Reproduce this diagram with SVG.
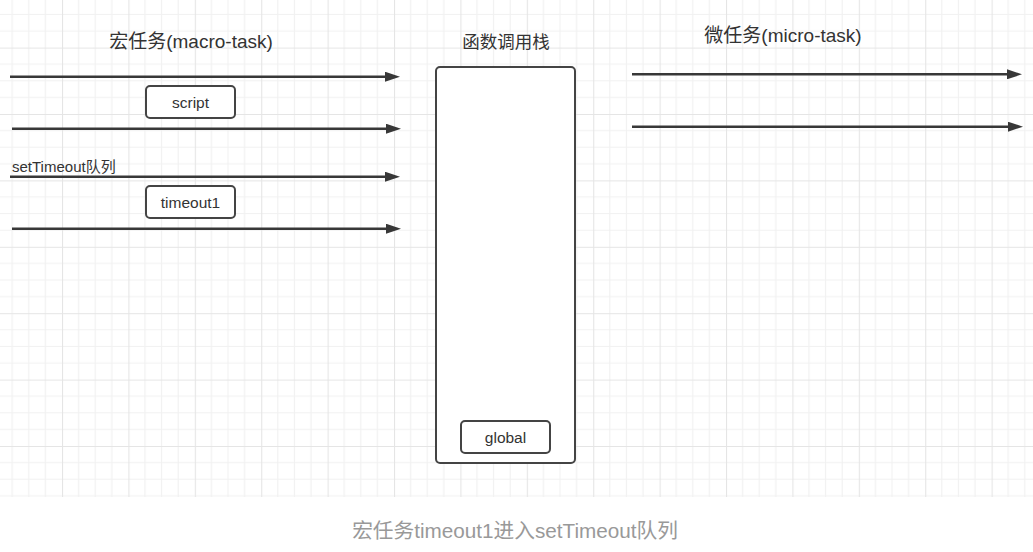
<svg xmlns="http://www.w3.org/2000/svg" width="1033" height="552" viewBox="0 0 1033 552">
  <style>
    .lbl { font-family: "Liberation Sans", "Noto Sans CJK SC", sans-serif; fill: #333333; }
    .box { fill: #ffffff; stroke: #444444; stroke-width: 2; }
    .arr { stroke: #383838; stroke-width: 2.5; fill: none; marker-end: url(#ah); }
  </style>
  <defs>
    <pattern id="grid" patternUnits="userSpaceOnUse" x="62" y="47.6" width="66.4" height="66.4">
      <path d="M16.6,0 V66.4 M33.2,0 V66.4 M49.8,0 V66.4 M0,16.6 H66.4 M0,33.2 H66.4 M0,49.8 H66.4" stroke="#f1f1f1" stroke-width="1.2" fill="none"/>
      <path d="M0.5,0 V66.4 M0,0.5 H66.4" stroke="#e5e5e5" stroke-width="1.2" fill="none"/>
    </pattern>
    <marker id="ah" markerUnits="userSpaceOnUse" markerWidth="15" markerHeight="10" viewBox="0 0 15 10" refX="1" refY="5" orient="auto">
      <path d="M0,0 L15,5 L0,10 z" fill="#383838"/>
    </marker>
  </defs>
  <rect x="0" y="0" width="1033" height="552" fill="#ffffff"/>
  <rect x="0" y="0" width="1033" height="497" fill="url(#grid)"/>

  <g id="headers">
    <text class="lbl" x="191" y="48" font-size="19" text-anchor="middle">宏任务(macro-task)</text>
    <text class="lbl" x="506" y="48" font-size="17.5" text-anchor="middle">函数调用栈</text>
    <text class="lbl" x="783" y="42" font-size="19" text-anchor="middle">微任务(micro-task)</text>
    <text class="lbl" x="12" y="172" font-size="15">setTimeout队列</text>
  </g>

  <g id="connectors">
    <line class="arr" x1="10" y1="76.7" x2="386" y2="76.7"/>
    <line class="arr" x1="12" y1="128.7" x2="387" y2="128.7"/>
    <line class="arr" x1="10" y1="176.7" x2="386" y2="176.7"/>
    <line class="arr" x1="12" y1="228.7" x2="387" y2="228.7"/>
    <line class="arr" x1="632" y1="74.3" x2="1008" y2="74.3"/>
    <line class="arr" x1="632" y1="126.7" x2="1009" y2="126.7"/>
  </g>

  <g id="node-script">
    <rect class="box" x="146" y="86" width="89" height="32" rx="4"/>
    <text class="lbl" x="190.5" y="107.5" font-size="15.5" text-anchor="middle">script</text>
  </g>
  <g id="node-timeout1">
    <rect class="box" x="146" y="186" width="89" height="32" rx="4"/>
    <text class="lbl" x="190.5" y="207.5" font-size="15.5" text-anchor="middle">timeout1</text>
  </g>
  <g id="node-callstack">
    <rect class="box" x="436" y="67" width="139" height="396" rx="4"/>
  </g>
  <g id="node-global">
    <rect class="box" x="461" y="421" width="89" height="32" rx="4"/>
    <text class="lbl" x="505.5" y="443" font-size="15.5" text-anchor="middle">global</text>
  </g>

  <text x="515" y="538" font-family="Liberation Sans, Noto Sans CJK SC, sans-serif" font-size="20.7" fill="#999999" text-anchor="middle">宏任务timeout1进入setTimeout队列</text>
</svg>
